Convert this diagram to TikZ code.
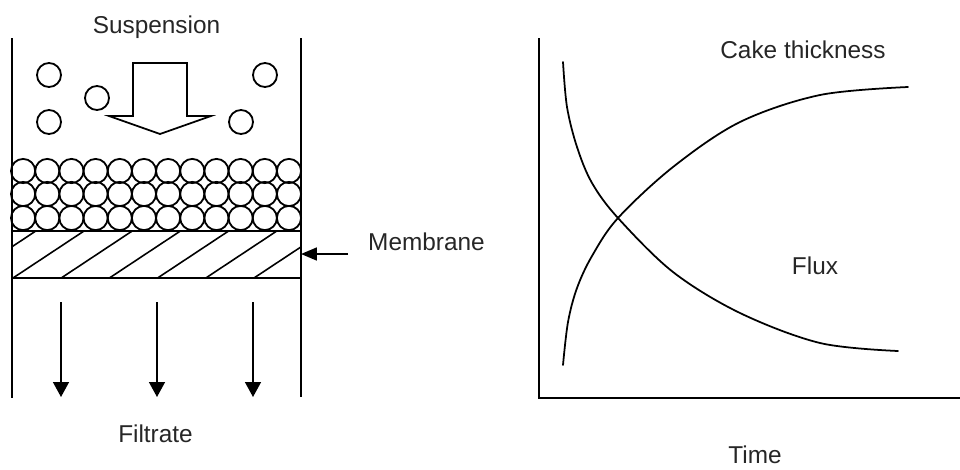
\documentclass[tikz,border=0pt]{standalone}
\usepackage{fontspec}
\setmainfont{Liberation Sans}
\usetikzlibrary{arrows.meta}
\begin{document}
\begin{tikzpicture}[x=0.03cm,y=-0.03cm,
  wall/.style={line width=1.7pt},
  particle/.style={line width=1.55pt},
  thinline/.style={line width=1.5pt},
  curve/.style={line width=1.5pt,line cap=round},
  label/.style={inner sep=0pt,text=black!85,font=\fontsize{20.8}{25}\selectfont},
  flowarrow/.style={line width=1.5pt,-{Triangle[length=12.8pt,width=13.6pt]}},
  memarrow/.style={line width=1.5pt,-{Triangle[length=13.5pt,width=11pt]}}]
\useasboundingbox (0,0) rectangle (960,469);
% container walls
\draw[wall] (12,38) -- (12,398);
\draw[wall] (301,38) -- (301,397);
% label suspension
\node[label,anchor=base] (susp) at (156.5,33) {Suspension};
% big outline arrow
\draw[thinline,line join=miter] (133,63) -- (187,63) -- (187,116) -- (211,116) -- (160,134) -- (109,116) -- (133,116) -- cycle;
% free particles
\foreach \p in {(49,75),(49,122),(97,98),(265,75),(241,122)}
  \draw[particle] \p circle (12);
% cake
\foreach \yy in {171,194,218}
  \foreach \k in {0,...,11}
    \draw[particle] ({23.1+24.17*\k},\yy) circle (12.1);
% membrane
\draw[thinline] (11,231) -- (302,231);
\draw[thinline] (11,278) -- (302,278);
\begin{scope}
\clip (12,231) rectangle (301,278);
\foreach \k in {-1,...,5}
  \draw[line width=1.35pt] ({13+48.2*\k},278) -- ({84+48.2*\k},231);
\end{scope}
\coordinate (memstart) at (348,254);
\coordinate (memtip) at (301,254);
\draw[memarrow] (memstart) -- (memtip);
\node[label,anchor=base west] (memb) at (368,250) {Membrane};
% filtrate arrows
\foreach \xx/\n in {61/a,157/b,253/c}{
  \coordinate (f\n s) at (\xx,302);
  \coordinate (f\n e) at (\xx,397);
  \draw[flowarrow] (f\n s) -- (f\n e);
}
\node[label,anchor=base] (filt) at (155.5,442) {Filtrate};
% graph axes
\draw[wall] (539,38) -- (539,398) -- (960,398);
% cake thickness curve
\draw[curve] plot[smooth,tension=0.55] coordinates {(563,365) (568,322) (577,288) (592,256) (618,218) (673,167) (740,122) (820,95) (908,87)};
% flux curve
\draw[curve] plot[smooth,tension=0.55] coordinates {(563,62) (567,107) (577,147) (592,183) (618,218) (673,272) (740,313) (820,343) (898,351)};
\node[label,anchor=base] (cake) at (803,58) {Cake thickness};
\node[label,anchor=base] (flux) at (815,274) {Flux};
\node[label,anchor=base] (time) at (755,463) {Time};
\end{tikzpicture}
\end{document}
